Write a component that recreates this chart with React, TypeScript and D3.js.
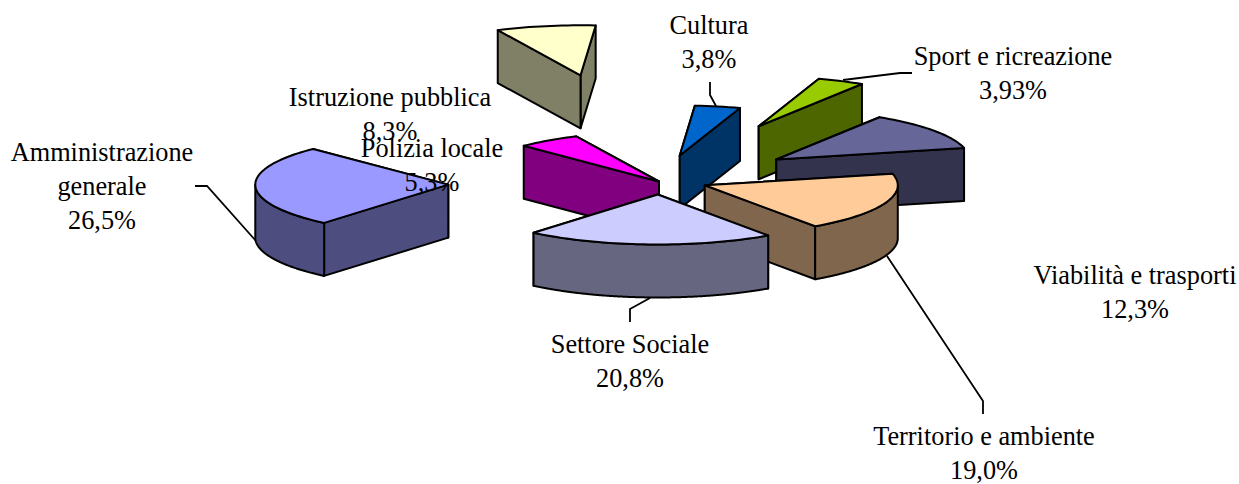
import React from "react";
import * as d3 from "d3";

const categories = [
  "Cultura",
  "Sport e ricreazione",
  "Viabilità e trasporti",
  "Territorio e ambiente",
  "Settore Sociale",
  "Amministrazione generale",
  "Polizia locale",
  "Istruzione pubblica",
];
const values = [3.8, 3.93, 12.3, 19.0, 20.8, 26.5, 5.3, 8.3];
const valueLabels = ["3,8%", "3,93%", "12,3%", "19,0%", "20,8%", "26,5%", "5,3%", "8,3%"];
const explosions = [0.52, 1.21, 0.74, 0.24, 0.26, 1.09, 0, 2.17];
const colors = ["#0066CC", "#99CC00", "#666699", "#FFCC99", "#CCCCFF", "#9999FF", "#FF00FF", "#FFFFCC"];

// Label layout: centre x, baseline of first line, lines of the name
const labelLayout: { x: number; y: number; lines: string[] }[] = [
  { x: 709, y: 34, lines: ["Cultura"] },
  { x: 1013, y: 65, lines: ["Sport e ricreazione"] },
  { x: 1135, y: 284, lines: ["Viabilità e trasporti"] },
  { x: 984, y: 445, lines: ["Territorio e ambiente"] },
  { x: 630, y: 353, lines: ["Settore Sociale"] },
  { x: 102, y: 161, lines: ["Amministrazione", "generale"] },
  { x: 432, y: 157, lines: ["Polizia locale"] },
  { x: 390, y: 106, lines: ["Istruzione pubblica"] },
];
const leaders: [number, number][][] = [
  [[710, 82], [710, 95], [716, 106]],
  [[912, 73], [900, 73], [843, 80]],
  [],
  [[983, 414], [983, 401], [887, 256]],
  [[630, 322], [630, 309], [650, 298]],
  [[195, 186], [207, 186], [256, 241]],
  [],
  [],
];
// Small placement corrections for each exploded slice
const sliceNudges: [number, number][] = [
  [0, 0], [-1, 0], [0, 0], [1.5, 0], [0, 0.5], [-1.5, 1.5], [-1, 0.5], [-3.5, 1],
];

const WIDTH = 1239;
const HEIGHT = 484;
const CX = 660;
const CY = 181;
const RX = 193;
const RY = 50;
const DEPTH = 53;
const START = (4.5 * Math.PI) / 180;
const FONT = "'Liberation Serif', 'Times New Roman', serif";
const FONT_SIZE = 26.3;
const LINE = 34;

type P = [number, number];
const path = d3.line<P>().x((d) => d[0]).y((d) => d[1]);

export default function App() {
  const arcs = d3
    .pie<number>()
    .sort(null)
    .startAngle(START)
    .endAngle(START + 2 * Math.PI)(values);

  const rx = d3.scaleLinear().domain([0, 1]).range([0, RX]);
  const ry = d3.scaleLinear().domain([0, 1]).range([0, RY]);

  const slices = arcs.map((a, i) => {
    const mid = (a.startAngle + a.endAngle) / 2;
    const apex: P = [
      CX + rx(Math.sin(mid) * explosions[i]) + sliceNudges[i][0],
      CY - ry(Math.cos(mid) * explosions[i]) + sliceNudges[i][1],
    ];
    const rim = (t: number): P => [apex[0] + rx(Math.sin(t)), apex[1] - ry(Math.cos(t))];
    const down = (p: P): P => [p[0], p[1] + DEPTH];
    const n = Math.max(4, Math.ceil((a.endAngle - a.startAngle) / 0.03));
    const ts = d3.range(n + 1).map((k) => a.startAngle + ((a.endAngle - a.startAngle) * k) / n);
    const rimPts = ts.map(rim);

    const top = path([apex, ...rimPts]) + "Z";
    const edges = [rim(a.startAngle), rim(a.endAngle)]
      .sort((p, q) => p[1] - q[1])
      .map((p) => path([apex, p, down(p), down(apex)]) + "Z");

    const wallTs: number[] = [];
    const norm = (t: number) => ((t % (2 * Math.PI)) + 2 * Math.PI) % (2 * Math.PI);
    const s = norm(a.startAngle);
    const span = a.endAngle - a.startAngle;
    d3.range(0, 241).forEach((k) => {
      const t = s + (span * k) / 240;
      const c = norm(t);
      if (c >= Math.PI / 2 && c <= (3 * Math.PI) / 2) wallTs.push(t);
    });
    let wall: string | null = null;
    if (wallTs.length > 1) {
      const up = wallTs.map(rim);
      wall = path([...up, ...up.slice().reverse().map(down)]) + "Z";
    }
    const side = d3.color(colors[i])!.rgb();
    const dark = d3.rgb(side.r * 0.5, side.g * 0.5, side.b * 0.5).formatHex();
    return { i, apex, top, edges, wall, dark };
  });

  const order = slices.slice().sort((p, q) => p.apex[1] - q.apex[1]);
  const stroke = { stroke: "#000", strokeWidth: 2, strokeLinejoin: "round" as const };

  return (
    <svg
      width={WIDTH}
      height={HEIGHT}
      viewBox={`0 0 ${WIDTH} ${HEIGHT}`}
      style={{ position: "absolute", left: 0, top: 0, display: "block", background: "#fff" }}
    >
      <g>
        {leaders.map((l, i) =>
          l.length ? (
            <path key={i} d={path(l as P[])!} fill="none" stroke="#000" strokeWidth={1.8} />
          ) : null
        )}
      </g>
      {order.map((s) => (
        <g key={categories[s.i]}>
          {s.edges.map((d, k) => (
            <path key={k} d={d} fill={s.dark} {...stroke} />
          ))}
          {s.wall && <path d={s.wall} fill={s.dark} {...stroke} />}
          <path d={s.top} fill={colors[s.i]} {...stroke} />
        </g>
      ))}
      <g fontFamily={FONT} fontSize={FONT_SIZE} fill="#000" textAnchor="middle">
        {labelLayout.map((l, i) => (
          <text key={i} x={l.x} y={l.y}>
            {[...l.lines, valueLabels[i]].map((t, k) => (
              <tspan key={k} x={l.x} y={l.y + k * LINE}>
                {t}
              </tspan>
            ))}
          </text>
        ))}
      </g>
    </svg>
  );
}
